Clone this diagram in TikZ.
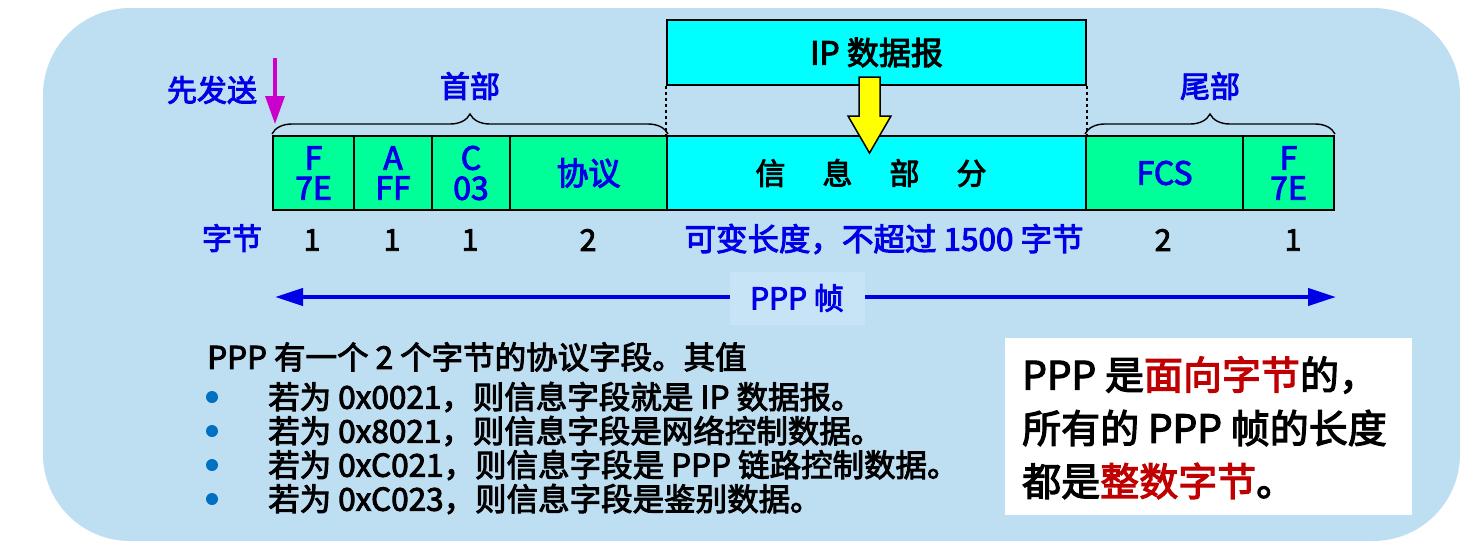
\documentclass[tikz,border=0pt]{standalone}
\usepackage{fontspec}
\setmainfont{Noto Sans CJK SC}[UprightFeatures={FakeBold=3}]
\usetikzlibrary{arrows.meta,decorations.pathreplacing}
\definecolor{bgblue}{RGB}{190,222,242}
\definecolor{lblblue}{RGB}{198,228,246}
\definecolor{boxgreen}{RGB}{0,255,153}
\definecolor{boxcyan}{RGB}{0,255,255}
\definecolor{txtblue}{RGB}{0,0,230}
\definecolor{dotblue}{RGB}{0,112,192}
\definecolor{hired}{RGB}{192,0,0}
\definecolor{magarrow}{RGB}{204,0,204}
\definecolor{arrowyellow}{RGB}{255,255,0}
\begin{document}
\begin{tikzpicture}[x=1pt,y=-1pt,
  field/.style={draw=black, line width=2pt, fill=boxgreen, text=txtblue,
    font=\fontsize{32}{30}\selectfont, align=center, inner sep=0pt, minimum height=74pt},
  cfield/.style={field, fill=boxcyan, text=black},
  lbl/.style={font=\fontsize{30}{30}\selectfont, inner sep=0pt},
  bluelbl/.style={lbl, text=txtblue},
  numlbl/.style={lbl, text=black},
  brc/.style={decorate, decoration={brace, amplitude=20pt}, line width=1.4pt},
  bodytxt/.style={font=\fontsize{31.5}{32}\selectfont, inner sep=0pt, anchor=west},
  bigtxt/.style={font=\fontsize{39}{40}\selectfont, inner sep=0pt, anchor=west},
  bullet/.style={circle, fill=dotblue, inner sep=0pt, minimum size=12pt}
]
\useasboundingbox (0,0) rectangle (1479,550);
\fill[bgblue, rounded corners=87pt] (43,8) rectangle (1460,541);

% IP datagram box
\node[cfield, minimum width=419pt, minimum height=65pt] (ip) at (876.5,52.5) {IP 数据报};

% frame fields
\node[field, minimum width=81pt] (f1) at (313.5,173) {F\\7E};
\node[field, minimum width=78pt] (addr) at (393,173) {A\\FF};
\node[field, minimum width=78pt] (ctrl) at (471,173) {C\\03};
\node[field, minimum width=157pt] (proto) at (588.5,173) {协议};
\node[cfield, minimum width=419pt] (info) at (876.5,173) {};
\node[lbl] (infotxt) at (871,173) {信\hspace{37pt}息\hspace{37pt}部\hspace{37pt}分};
\node[field, minimum width=157pt] (fcs) at (1164.5,173) {FCS};
\node[field, minimum width=91pt] (f2) at (1288.5,173) {F\\7E};

% dashed guides
\draw[dashed, line width=1.2pt] (ip.south west) -- (info.north west);
\draw[dashed, line width=1.2pt] (ip.south east) -- (info.north east);

% yellow block arrow
\draw[fill=arrowyellow, line width=1.5pt, line join=miter]
  (859,77) -- (880,77) -- (880,116) -- (891,116) -- (869.5,153) -- (848,116) -- (859,116) -- cycle;

% braces
\draw[brc] ([yshift=1pt]f1.north west) -- ([yshift=1pt]proto.north east);
\draw[brc] ([yshift=1pt]fcs.north west) -- ([yshift=1pt]f2.north east);
\node[bluelbl] (head) at (470,86) {首部};
\node[bluelbl] (tail) at (1210,86) {尾部};

% send-first arrow
\node[bluelbl] (send) at (212,90) {先发送};
\coordinate (sendtop) at (275,58);
\coordinate (sendtip) at (275,124);
\draw[magarrow, line width=3.5pt, -{Triangle[length=28pt,width=19pt]}] (sendtop) -- (sendtip);

% byte counts
\node[bluelbl] (bytes) at (232,238) {字节};
\node[numlbl] (n1) at (312,240) {1};
\node[numlbl] (n2) at (392,240) {1};
\node[numlbl] (n3) at (470,240) {1};
\node[numlbl] (n4) at (588,240) {2};
\node[bluelbl, font=\fontsize{31.5}{32}\selectfont] (n5) at (884,239) {可变长度，不超过 1500 字节};
\node[numlbl] (n6) at (1163,240) {2};
\node[numlbl] (n7) at (1293,240) {1};

% PPP frame arrow
\coordinate (pl) at (275,297);
\coordinate (pr) at (1336,297);
\draw[txtblue, line width=4pt, {Triangle[length=28pt,width=17pt]}-{Triangle[length=28pt,width=17pt]}] (pl) -- (pr);
\node[bluelbl, fill=lblblue, minimum width=135pt, minimum height=53pt] (ppp) at (797,298) {PPP 帧};

% explanation text
\node[bodytxt] (t0) at (207,357) {PPP 有一个 2 个字节的协议字段。其值};
\node[bullet] (b1) at (212,397) {};
\node[bullet] (b2) at (212,431) {};
\node[bullet] (b3) at (212,465) {};
\node[bullet] (b4) at (212,499) {};
\node[bodytxt] (t1) at (268,397) {若为 0x0021，则信息字段就是 IP 数据报。};
\node[bodytxt] (t2) at (268,431) {若为 0x8021，则信息字段是网络控制数据。};
\node[bodytxt] (t3) at (268,465) {若为 0xC021，则信息字段是 PPP 链路控制数据。};
\node[bodytxt] (t4) at (268,499) {若为 0xC023，则信息字段是鉴别数据。};

% white note box
\fill[white] (1005,338) rectangle (1412,515);
\node[bigtxt] (w1) at (1022,375) {PPP 是\textcolor{hired}{面向字节}的，};
\node[bigtxt] (w2) at (1022,428) {所有的 PPP 帧的长度};
\node[bigtxt] (w3) at (1022,481) {都是\textcolor{hired}{整数字节}。};
\end{tikzpicture}
\end{document}
